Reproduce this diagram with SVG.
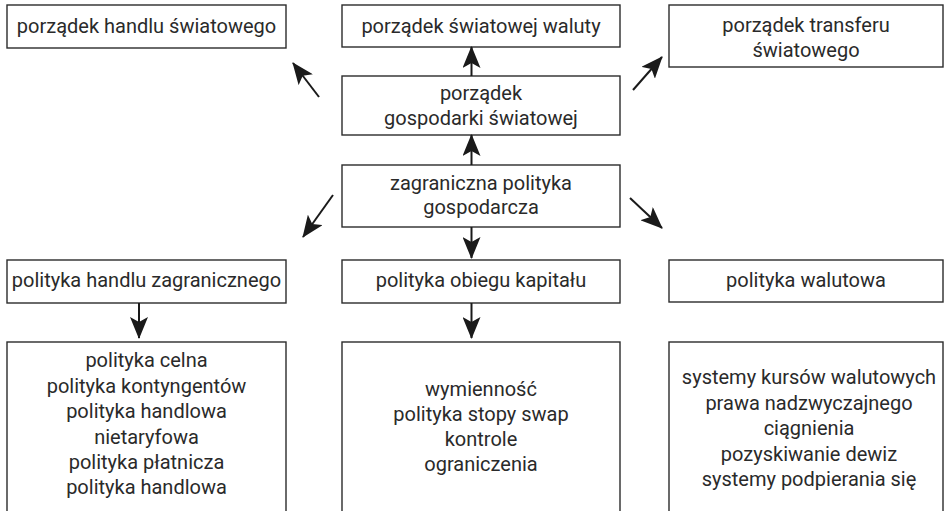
<svg xmlns="http://www.w3.org/2000/svg" width="945" height="511" viewBox="0 0 945 511">
  <style>
    .box { fill: #ffffff; stroke: #2b2b2b; stroke-width: 1.4; }
    .lbl { font-family: Roboto, "Liberation Sans", Arial, sans-serif; font-size: 20px; fill: #2a2a2a; text-anchor: middle; }
    .edge { stroke: #1a1a1a; stroke-width: 2; fill: none; marker-end: url(#head); }
  </style>
  <defs>
    <marker id="head" viewBox="0 0 22 18" refX="21" refY="9" markerWidth="22" markerHeight="18" markerUnits="userSpaceOnUse" orient="auto">
      <path d="M0,0 L22,9 L0,18 L5,9 Z" fill="#1a1a1a"/>
    </marker>
  </defs>

  <rect width="945" height="511" fill="#ffffff"/>

  <!-- top row -->
  <g id="n-handel-swiat">
    <rect class="box" x="7" y="5" width="279" height="43"/>
    <text class="lbl" x="146.5" y="33">porządek handlu światowego</text>
  </g>
  <g id="n-waluta-swiat">
    <rect class="box" x="342" y="5" width="278" height="42"/>
    <text class="lbl" x="481" y="33">porządek światowej waluty</text>
  </g>
  <g id="n-transfer-swiat">
    <rect class="box" x="669" y="5" width="274" height="62"/>
    <text class="lbl" x="806" y="32">porządek transferu</text>
    <text class="lbl" x="806" y="57">światowego</text>
  </g>

  <!-- centre column -->
  <g id="n-gospodarka-swiat">
    <rect class="box" x="342" y="76" width="278" height="59"/>
    <text class="lbl" x="481" y="100">porządek</text>
    <text class="lbl" x="481" y="125">gospodarki światowej</text>
  </g>
  <g id="n-polityka-zagr">
    <rect class="box" x="342" y="165" width="278" height="62"/>
    <text class="lbl" x="481" y="190">zagraniczna polityka</text>
    <text class="lbl" x="481" y="214">gospodarcza</text>
  </g>

  <!-- middle row -->
  <g id="n-handel-zagr">
    <rect class="box" x="7" y="260" width="279" height="43"/>
    <text class="lbl" x="146.5" y="287">polityka handlu zagranicznego</text>
  </g>
  <g id="n-obieg-kapitalu">
    <rect class="box" x="342" y="260" width="278" height="43"/>
    <text class="lbl" x="481" y="287">polityka obiegu kapitału</text>
  </g>
  <g id="n-walutowa">
    <rect class="box" x="669" y="260" width="274" height="42"/>
    <text class="lbl" x="806" y="287">polityka walutowa</text>
  </g>

  <!-- bottom row (boxes run off the lower edge) -->
  <g id="n-instr-handel">
    <rect class="box" x="7" y="342" width="279" height="180"/>
    <text class="lbl" x="146.5" y="367">polityka celna</text>
    <text class="lbl" x="146.5" y="393">polityka kontyngentów</text>
    <text class="lbl" x="146.5" y="418">polityka handlowa</text>
    <text class="lbl" x="146.5" y="444">nietaryfowa</text>
    <text class="lbl" x="146.5" y="469">polityka płatnicza</text>
    <text class="lbl" x="146.5" y="494">polityka handlowa</text>
  </g>
  <g id="n-instr-kapital">
    <rect class="box" x="342" y="342" width="278" height="180"/>
    <text class="lbl" x="481" y="396">wymienność</text>
    <text class="lbl" x="481" y="421">polityka stopy swap</text>
    <text class="lbl" x="481" y="446">kontrole</text>
    <text class="lbl" x="481" y="471">ograniczenia</text>
  </g>
  <g id="n-instr-waluta">
    <rect class="box" x="669" y="342" width="274" height="180"/>
    <text class="lbl" x="809" y="384">systemy kursów walutowych</text>
    <text class="lbl" x="809" y="410">prawa nadzwyczajnego</text>
    <text class="lbl" x="809" y="435">ciągnienia</text>
    <text class="lbl" x="809" y="461">pozyskiwanie dewiz</text>
    <text class="lbl" x="809" y="486">systemy podpierania się</text>
  </g>

  <!-- connectors -->
  <g id="connectors">
    <line class="edge" x1="471.5" y1="76" x2="471.5" y2="47"/>
    <line class="edge" x1="471.5" y1="165" x2="471.5" y2="135"/>
    <line class="edge" x1="319" y1="97" x2="293" y2="63"/>
    <line class="edge" x1="633" y1="90" x2="662" y2="57"/>
    <line class="edge" x1="333" y1="195" x2="303" y2="237"/>
    <line class="edge" x1="630" y1="198" x2="662" y2="228"/>
    <line class="edge" x1="471.5" y1="227" x2="471.5" y2="258"/>
    <line class="edge" x1="139" y1="303" x2="139" y2="338"/>
    <line class="edge" x1="471.5" y1="303" x2="471.5" y2="338"/>
  </g>
</svg>
